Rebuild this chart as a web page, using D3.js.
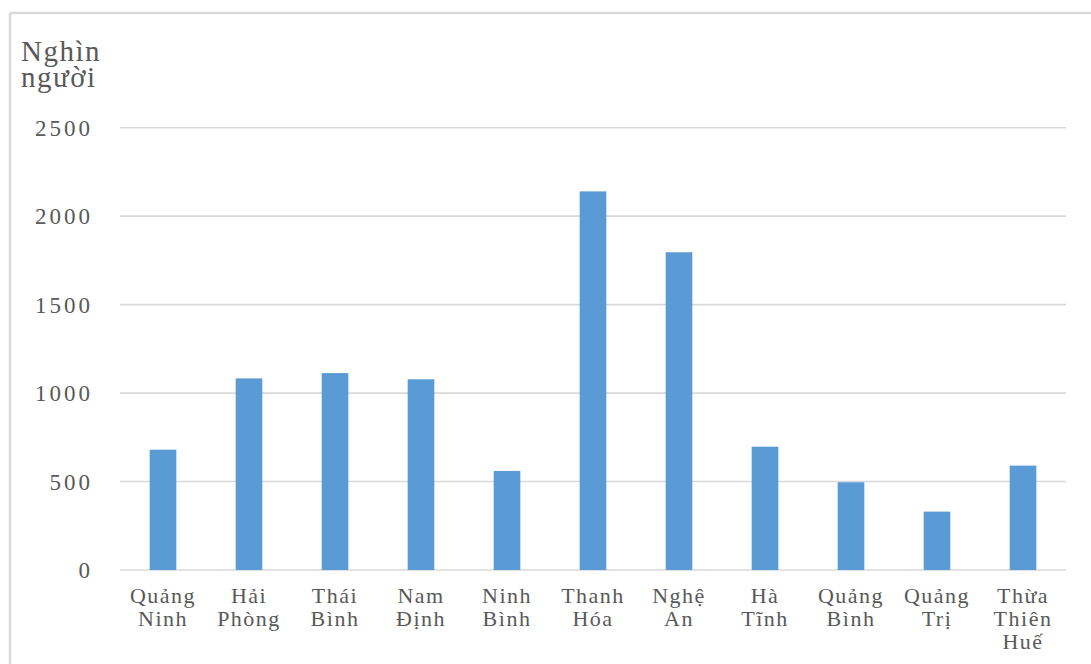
<!DOCTYPE html>
<html>
<head>
<meta charset="utf-8">
<script src="https://cdn.jsdelivr.net/npm/d3@7"></script>
<style>
  body { margin: 0; background: #fff; }
  text { font-family: "Liberation Serif", "Times New Roman", serif; fill: #595959; }
</style>
</head>
<body>
<div id="chart"></div>
<script>
var provinces = ["Quảng Ninh", "Hải Phòng", "Thái Bình", "Nam Định", "Ninh Bình", "Thanh Hóa",
  "Nghệ An", "Hà Tĩnh", "Quảng Bình", "Quảng Trị", "Thừa Thiên Huế"];
var labelLines = [["Quảng", "Ninh"], ["Hải", "Phòng"], ["Thái", "Bình"], ["Nam", "Định"], ["Ninh", "Bình"],
  ["Thanh", "Hóa"], ["Nghệ", "An"], ["Hà", "Tĩnh"], ["Quảng", "Bình"], ["Quảng", "Trị"], ["Thừa", "Thiên", "Huế"]];
var population = [680, 1083, 1113, 1078, 560, 2140, 1796, 697, 496, 330, 590];
var yTicks = [0, 500, 1000, 1500, 2000, 2500];
var yTitle = ["Nghìn", "người"];

var svgWidth = 1091;
var svgHeight = 664;
var margin = { top: 127.7, right: 25, bottom: 94, left: 120 };
var width = svgWidth - margin.left - margin.right;
var height = svgHeight - margin.top - margin.bottom;

var svg = d3.select("#chart")
  .append("svg")
    .attr("width", svgWidth)
    .attr("height", svgHeight);

// outer chart frame (only top and left edges show)
svg.append("line")
  .attr("x1", 10).attr("x2", svgWidth)
  .attr("y1", 13).attr("y2", 13)
  .attr("stroke", "#d9d9d9").attr("stroke-width", 2.5);
svg.append("line")
  .attr("x1", 10).attr("x2", 10)
  .attr("y1", 13).attr("y2", svgHeight)
  .attr("stroke", "#d9d9d9").attr("stroke-width", 2.5);

var chartGroup = svg.append("g")
  .attr("transform", `translate(${margin.left}, ${margin.top})`);

var xScale = d3.scaleBand()
  .domain(provinces)
  .range([0, width])
  .paddingInner(0.69)
  .paddingOuter(0.345);

var yScale = d3.scaleLinear()
  .domain([0, 2500])
  .range([height, 0]);

// gridlines
chartGroup.append("g")
  .selectAll("line")
  .data(yTicks)
  .enter()
  .append("line")
    .attr("x1", 0)
    .attr("x2", width)
    .attr("y1", d => yScale(d))
    .attr("y2", d => yScale(d))
    .attr("stroke", "#d9d9d9")
    .attr("stroke-width", 1.6);

// y tick labels
chartGroup.append("g")
  .selectAll("text")
  .data(yTicks)
  .enter()
  .append("text")
    .attr("x", -27)
    .attr("y", d => yScale(d))
    .attr("dy", "0.35em")
    .attr("text-anchor", "end")
    .attr("font-size", "23px")
    .attr("letter-spacing", "3px")
    .text(d => d);

// bars
chartGroup.append("g")
  .selectAll("rect")
  .data(population)
  .enter()
  .append("rect")
    .attr("x", (d, i) => xScale(provinces[i]))
    .attr("y", d => yScale(d))
    .attr("width", xScale.bandwidth())
    .attr("height", d => height - yScale(d))
    .attr("fill", "#5b9bd5");

// category labels
var labels = chartGroup.append("g")
  .selectAll("text")
  .data(provinces)
  .enter()
  .append("text")
    .attr("text-anchor", "middle")
    .attr("font-size", "22px")
    .attr("letter-spacing", "1.5px")
    .attr("transform", d => `translate(${xScale(d) + xScale.bandwidth() / 2}, ${height + 33})`);

labels.selectAll("tspan")
  .data((d, i) => labelLines[i])
  .enter()
  .append("tspan")
    .attr("x", 0)
    .attr("y", (d, j) => j * 23)
    .text(d => d);

// axis title
svg.append("g")
  .selectAll("text")
  .data(yTitle)
  .enter()
  .append("text")
    .attr("x", 21)
    .attr("y", (d, i) => 61 + i * 26)
    .attr("font-size", "29px")
    .attr("letter-spacing", "1.5px")
    .text(d => d);
</script>
</body>
</html>
